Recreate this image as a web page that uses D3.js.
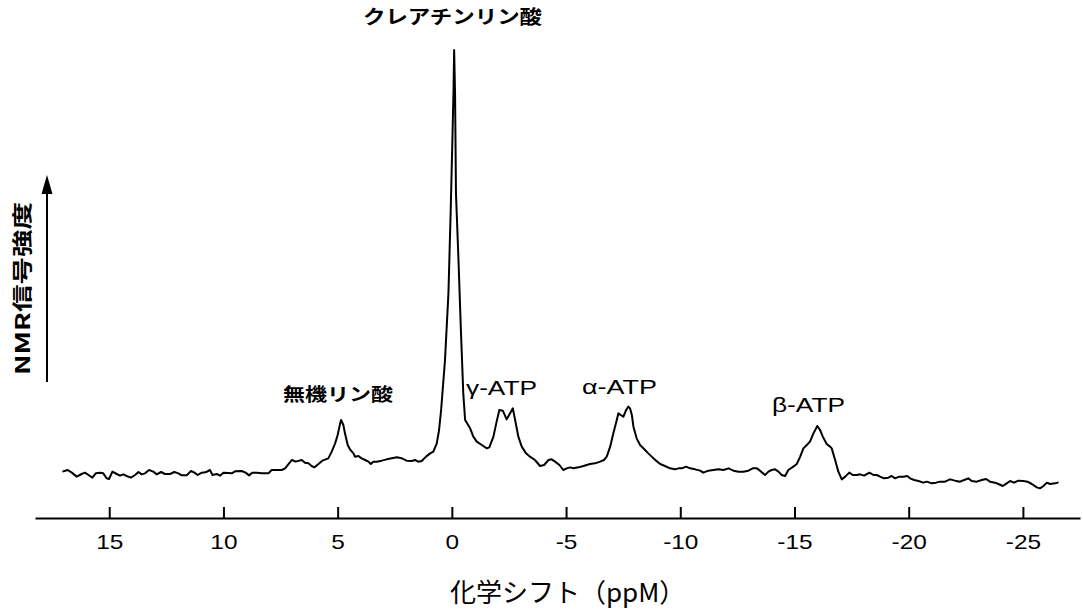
<!DOCTYPE html>
<html>
<head>
<meta charset="utf-8">
<script src="https://cdn.jsdelivr.net/npm/d3@7"></script>
<style>
  html, body { margin: 0; padding: 0; background: #fff; }
  svg { display: block; }
</style>
</head>
<body>
<svg id="chart" width="1083" height="612"></svg>
<script>
// 31P NMR spectrum: chemical shift (ppm) and signal intensity (arbitrary units)
const shiftPpm = [
  17.05, 16.82, 16.64, 16.42, 16.21, 16.06, 15.91, 15.74, 15.59, 15.40,
  15.26, 15.11, 15.01, 14.86, 14.67, 14.53, 14.38, 14.24, 14.05, 13.87,
  13.72, 13.58, 13.43, 13.26, 13.07, 12.92, 12.73, 12.56, 12.34, 12.15,
  11.97, 11.83, 11.61, 11.42, 11.27, 11.13, 10.95, 10.78, 10.59, 10.48,
  10.29, 10.15, 10.00, 9.78, 9.64, 9.49, 9.20, 9.03, 8.88, 8.73,
  8.54, 8.32, 8.03, 7.89, 7.67, 7.45, 7.30, 7.16, 7.01, 6.84,
  6.57, 6.43, 6.28, 6.14, 6.02, 5.84, 5.67, 5.52, 5.41, 5.26,
  5.11, 5.00, 4.89, 4.85, 4.75, 4.68, 4.56, 4.46, 4.31, 4.24,
  4.09, 3.95, 3.80, 3.65, 3.55, 3.44, 3.29, 3.07, 2.85, 2.63,
  2.41, 2.19, 1.98, 1.76, 1.61, 1.47, 1.32, 1.13, 0.95, 0.81,
  0.66, 0.56, 0.47, 0.30, 0.15, 0.05, -0.02, -0.07, -0.10, -0.14,
  -0.18, -0.29, -0.39, -0.50, -0.58, -0.80, -0.94, -1.09, -1.31, -1.53,
  -1.64, -1.82, -1.96, -2.08, -2.23, -2.40, -2.55, -2.67, -2.77, -2.91,
  -3.06, -3.25, -3.42, -3.64, -3.86, -4.04, -4.23, -4.37, -4.52, -4.71,
  -4.88, -5.03, -5.18, -5.32, -5.54, -5.76, -6.05, -6.27, -6.49, -6.66,
  -6.78, -6.93, -7.07, -7.22, -7.29, -7.39, -7.51, -7.63, -7.73, -7.80,
  -7.88, -7.95, -8.09, -8.24, -8.46, -8.60, -8.75, -8.94, -9.12, -9.33,
  -9.55, -9.77, -9.92, -10.06, -10.25, -10.43, -10.65, -10.87, -11.01, -11.23,
  -11.45, -11.67, -11.89, -12.11, -12.33, -12.55, -12.76, -12.98, -13.17, -13.35,
  -13.49, -13.71, -13.86, -14.00, -14.15, -14.30, -14.44, -14.59, -14.73, -14.95,
  -15.10, -15.25, -15.39, -15.54, -15.68, -15.83, -16.00, -16.12, -16.24, -16.41,
  -16.56, -16.63, -16.78, -16.92, -17.07, -17.22, -17.40, -17.55, -17.73, -17.87,
  -18.05, -18.28, -18.46, -18.60, -18.75, -18.92, -19.11, -19.26, -19.40, -19.59,
  -19.77, -19.94, -20.06, -20.24, -20.43, -20.64, -20.79, -21.01, -21.20, -21.37,
  -21.59, -21.81, -22.03, -22.25, -22.43, -22.61, -22.76, -22.98, -23.20, -23.39,
  -23.56, -23.78, -23.93, -24.12, -24.29, -24.44, -24.61, -24.80, -25.02, -25.20,
  -25.39, -25.61, -25.75, -25.90, -26.05, -26.19, -26.41, -26.56
];
const signal = [
  9.47, 9.8, 9.27, 8.47, 9.0, 9.27, 8.8, 8.27, 9.13, 9.27,
  9.13, 8.13, 8.0, 9.47, 9.0, 8.67, 8.93, 8.6, 8.27, 8.8,
  9.4, 8.93, 9.13, 9.8, 9.47, 8.93, 9.4, 9.0, 9.0, 9.4,
  9.13, 8.73, 8.73, 9.6, 9.27, 8.8, 9.27, 9.33, 9.8, 8.8,
  9.0, 8.67, 9.27, 9.2, 9.13, 9.53, 9.6, 9.27, 8.73, 9.27,
  9.27, 9.13, 9.13, 9.8, 9.8, 9.8, 10.13, 10.93, 11.8, 11.47,
  11.8, 11.27, 11.13, 10.6, 10.33, 11.0, 11.67, 11.93, 12.13, 13.47,
  15.13, 16.8, 19.13, 19.8, 18.8, 17.13, 14.8, 13.93, 13.13, 12.47,
  12.6, 12.13, 11.8, 11.47, 11.0, 11.47, 11.47, 11.67, 11.93, 12.13,
  12.33, 12.13, 11.67, 11.6, 11.8, 11.47, 11.6, 12.47, 13.13, 13.47,
  15.13, 17.8, 21.8, 31.8, 45.13, 61.8, 75.13, 85.13, 93.8, 85.13,
  65.13, 51.8, 38.47, 25.13, 19.8, 18.13, 16.47, 15.47, 14.8, 14.13,
  14.33, 16.47, 19.47, 21.8, 21.67, 19.93, 21.13, 22.13, 19.8, 16.47,
  14.47, 13.13, 12.47, 11.8, 10.6, 10.8, 11.8, 11.93, 11.47, 10.8,
  9.8, 10.13, 10.33, 10.13, 10.33, 10.6, 11.0, 11.13, 11.47, 11.8,
  12.47, 14.47, 17.13, 19.8, 21.13, 20.8, 20.47, 21.8, 22.47, 22.13,
  20.8, 18.47, 16.13, 14.8, 13.8, 13.13, 12.47, 11.67, 11.0, 10.6,
  10.13, 9.93, 10.13, 10.13, 10.47, 10.13, 9.93, 9.67, 9.27, 9.67,
  9.8, 9.93, 9.8, 10.13, 9.67, 9.47, 9.47, 9.67, 10.13, 10.13,
  9.67, 8.8, 9.47, 9.8, 9.93, 9.47, 8.8, 8.6, 9.8, 10.47,
  11.0, 12.47, 14.13, 14.8, 15.47, 17.13, 18.6, 17.8, 16.47, 15.0,
  14.47, 14.13, 11.8, 9.47, 7.93, 8.47, 9.27, 8.8, 8.8, 8.93,
  8.67, 9.27, 8.8, 8.8, 8.47, 8.13, 8.27, 8.6, 8.13, 8.47,
  8.47, 8.6, 8.13, 7.8, 7.6, 7.27, 7.47, 7.13, 7.27, 7.47,
  7.47, 7.93, 7.67, 7.47, 7.8, 8.13, 7.6, 7.47, 7.8, 8.0,
  7.47, 7.27, 7.0, 6.6, 7.13, 7.6, 7.27, 7.67, 7.6, 7.47,
  7.0, 6.33, 6.13, 6.6, 7.27, 7.0, 7.13, 7.33
];
const tickValues = [15, 10, 5, 0, -5, -10, -15, -20, -25];
const peakNames = ["クレアチンリン酸", "無機リン酸", "γ-ATP", "α-ATP", "β-ATP"];
const xTitle = "化学シフト（ppM）";
const yTitle = "NMR信号強度";

const svg = d3.select("#chart");
const cjk = "'Noto Sans CJK JP', 'Noto Sans CJK SC', sans-serif";
const latin = "'Liberation Sans', Arial, sans-serif";

// Shift axis runs right-to-left (high ppm on the left)
const x = d3.scaleLinear().domain([18.25, -27.5]).range([35, 1080]);
const y = d3.scaleLinear().domain([0, 93.8]).range([519, 50]);
const axisY = 518;

// spectrum trace
const points = shiftPpm.map((p, i) => [p, signal[i]]);
svg.append("path")
  .datum(points)
  .attr("fill", "none")
  .attr("stroke", "#000")
  .attr("stroke-width", 2)
  .attr("stroke-linejoin", "round")
  .attr("d", d3.line().x(d => x(d[0])).y(d => y(d[1])));

// shift axis with upward ticks
const axis = d3.axisBottom(x)
  .tickValues(tickValues)
  .tickFormat(d => String(d))
  .tickSizeInner(-11)
  .tickSizeOuter(0);
const gx = svg.append("g").attr("transform", `translate(0,${axisY})`).call(axis);
gx.select(".domain").attr("stroke", "#000").attr("stroke-width", 2);
gx.selectAll(".tick line").attr("stroke", "#000").attr("stroke-width", 2);
gx.selectAll(".tick text")
  .attr("y", 31)
  .attr("dy", null)
  .attr("fill", "#000")
  .attr("font-family", latin)
  .attr("font-size", 20)
  .attr("transform", "scale(1.22,1)");

// text helper: fixed run length keeps the wide lettering
function label(str, px, py, opts) {
  const t = svg.append("text")
    .attr("x", px).attr("y", py)
    .attr("font-family", opts.family)
    .attr("font-size", opts.size)
    .attr("font-weight", opts.weight || "normal")
    .attr("fill", "#000")
    .text(str);
  if (opts.len) t.attr("textLength", opts.len).attr("lengthAdjust", "spacingAndGlyphs");
  return t;
}

label(peakNames[0], 363, 24, { family: cjk, size: 19, weight: "bold", len: 179 });
label(peakNames[1], 283, 401, { family: cjk, size: 18, weight: "bold", len: 110 });
label(peakNames[2], 466, 395, { family: latin, size: 21, len: 71 });
label(peakNames[3], 582, 394, { family: latin, size: 21, len: 75 });
label(peakNames[4], 772, 412, { family: latin, size: 21, len: 73 });

// x-axis title
label(xTitle, 450, 602, { family: cjk, size: 26 });

// y-axis title, rotated
svg.append("text")
  .attr("transform", "translate(30,288.5) rotate(-90)")
  .attr("text-anchor", "middle")
  .attr("font-family", cjk)
  .attr("font-size", 20)
  .attr("font-weight", "bold")
  .attr("fill", "#000")
  .attr("textLength", 173)
  .attr("lengthAdjust", "spacingAndGlyphs")
  .text(yTitle);

// intensity arrow
svg.append("line")
  .attr("x1", 47).attr("x2", 47)
  .attr("y1", 382).attr("y2", 190)
  .attr("stroke", "#000").attr("stroke-width", 2);
svg.append("path")
  .attr("d", "M47,175L41.5,194L52.5,194Z")
  .attr("fill", "#000");
</script>
</body>
</html>
